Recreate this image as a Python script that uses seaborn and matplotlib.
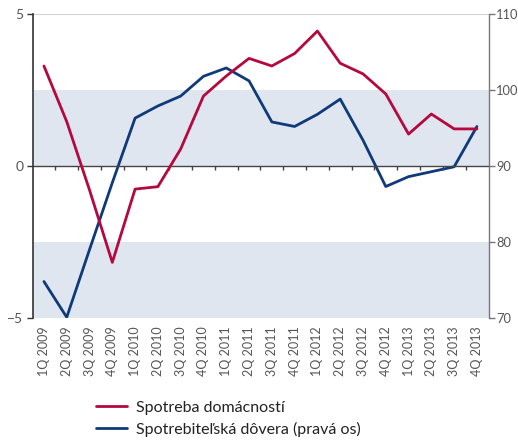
import numpy as np
import pandas as pd
import matplotlib
matplotlib.use("Agg")
import matplotlib.pyplot as plt
import seaborn as sns
from matplotlib.lines import Line2D

quarters = ["1Q 2009", "2Q 2009", "3Q 2009", "4Q 2009",
            "1Q 2010", "2Q 2010", "3Q 2010", "4Q 2010",
            "1Q 2011", "2Q 2011", "3Q 2011", "4Q 2011",
            "1Q 2012", "2Q 2012", "3Q 2012", "4Q 2012",
            "1Q 2013", "2Q 2013", "3Q 2013", "4Q 2013"]
spotreba = [3.29, 1.46, -0.79, -3.17, -0.76, -0.68, 0.56, 2.30,
            2.96, 3.54, 3.29, 3.70, 4.44, 3.38, 3.03, 2.37,
            1.05, 1.71, 1.22, 1.22]
dovera = [74.8, 70.1, 79.0, 87.8, 96.3, 97.9, 99.2, 101.8,
          102.9, 101.2, 95.8, 95.2, 96.8, 98.8, 93.4, 87.3,
          88.6, 89.25, 89.9, 95.2]
left_ticks = [-5, 0, 5]
right_ticks = [70, 80, 90, 100, 110]
label_red = "Spotreba domácností"
label_blue = "Spotrebiteľská dôvera (pravá os)"

RED = "#b5083f"
BLUE = "#0f3a7a"
BAND = "#e0e6f0"
TXT = "#555555"

sns.set_style("white")
plt.rcParams["font.family"] = ["Lato", "DejaVu Sans"]

df = pd.DataFrame({"q": np.arange(len(quarters)), "s": spotreba, "d": dovera})

fig = plt.figure(figsize=(5.18, 4.41), dpi=100)
ax = fig.add_axes([33/518, 1-318/441, (489-33)/518, (318-14)/441])
ax2 = ax.twinx()

# bands on right axis
ax2.axhspan(70, 80, color=BAND, lw=0, zorder=0)
ax2.axhspan(90, 100, color=BAND, lw=0, zorder=0)
ax2.axhline(110, color="#c8c8c8", lw=1.2, zorder=1)

sns.lineplot(data=df, x="q", y="d", ax=ax2, color=BLUE, lw=2.0, zorder=3)
sns.lineplot(data=df, x="q", y="s", ax=ax, color=RED, lw=2.0, zorder=3)

# put red axes on top, but keep its background transparent
ax.set_zorder(ax2.get_zorder() + 1)
ax.patch.set_visible(False)

ax.set_xlim(-0.48, 19.53)
ax.set_ylim(-5, 5)
ax2.set_ylim(70, 110)

# zero line with small ticks between categories
ax.axhline(0, color="#444444", lw=1.0, zorder=1)
ax.vlines(np.arange(0.5, 19, 1), -0.13, 0, color="#444444", lw=1.0, zorder=1)

ax.set_yticks(left_ticks)
ax2.set_yticks(right_ticks)
ax.set_xticks(np.arange(len(quarters)))
ax.set_xticklabels(quarters, rotation=90, fontsize=9, color=TXT)
ax.tick_params(axis="x", length=0, pad=6)
ax.tick_params(axis="y", length=4, width=1, colors="#333333", labelcolor=TXT,
               labelsize=10, left=True, direction="out", pad=3)
ax2.tick_params(axis="y", length=4, width=1, colors="#777777", labelcolor=TXT,
                labelsize=9.3, right=True, direction="out", pad=1)
ax.set_xlabel("")
ax.set_ylabel("")
ax2.set_ylabel("")

for a in (ax, ax2):
    a.spines["top"].set_visible(False)
    a.spines["bottom"].set_visible(False)
ax.spines["right"].set_visible(False)
ax2.spines["left"].set_visible(False)
ax.spines["left"].set_color("#333333")
ax.spines["left"].set_linewidth(1.2)
ax2.spines["right"].set_color("#777777")
ax2.spines["right"].set_linewidth(1.0)

handles = [Line2D([], [], color=RED, lw=2), Line2D([], [], color=BLUE, lw=2)]
fig.legend(handles, [label_red, label_blue], loc="upper left",
           bbox_to_anchor=(90/518, 1-394/441), frameon=False, fontsize=11.5,
           handlelength=1.9, labelspacing=0.45, handletextpad=0.6,
           labelcolor="#222222", borderaxespad=0)

fig.savefig("out.png", dpi=100)
